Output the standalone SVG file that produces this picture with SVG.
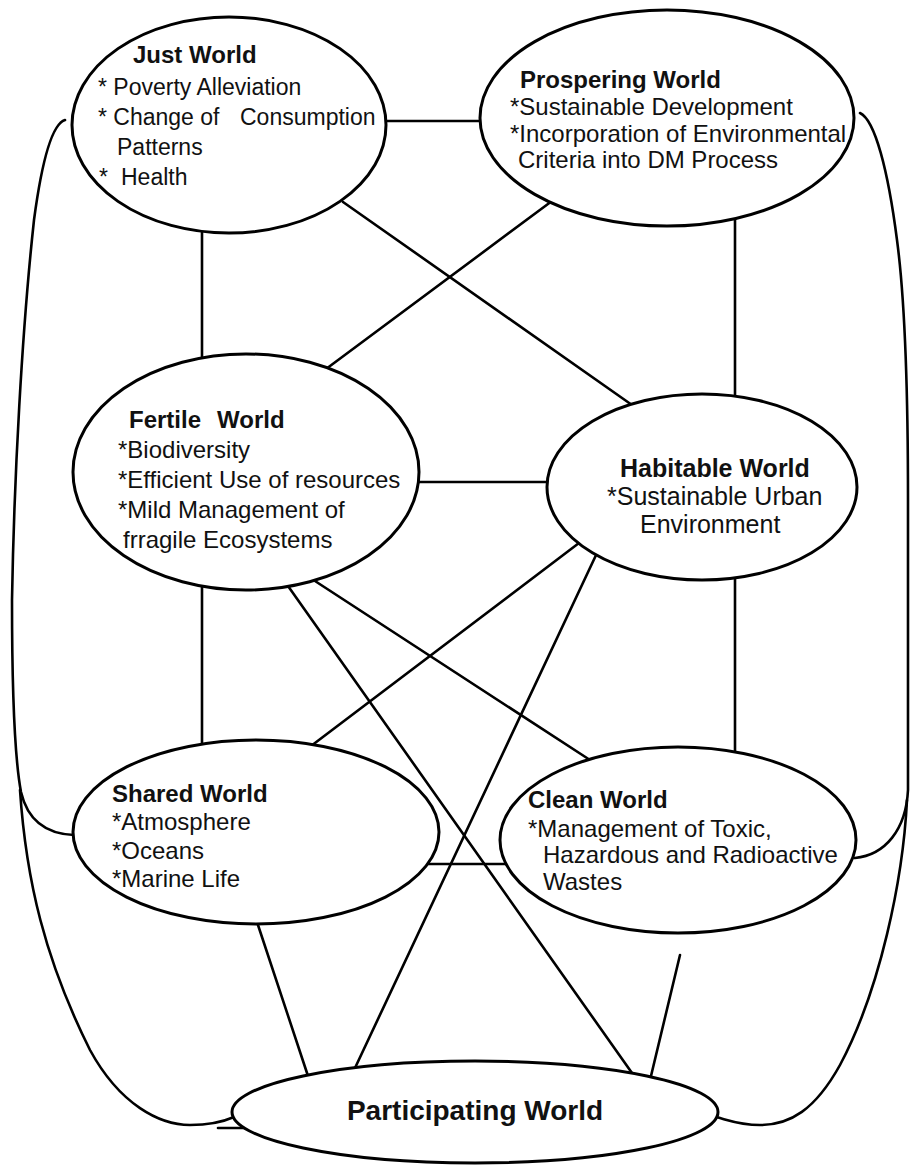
<svg xmlns="http://www.w3.org/2000/svg" width="910" height="1165" viewBox="0 0 910 1165">
<style>
.bg{fill:#ffffff}
.node ellipse{fill:#ffffff;stroke:#000;stroke-width:3}
.conn line,.conn path{stroke:#000;stroke-width:2.6;fill:none;stroke-linecap:round}
text{font-family:"Liberation Sans",Arial,sans-serif;fill:#111;font-size:24px}
.t{font-weight:bold}
.s23{font-size:23px}
.s25{font-size:25px}
.big{font-size:28px;font-weight:bold}
</style>
<rect class="bg" x="0" y="0" width="910" height="1165"/>
<g id="connectors" class="conn">
  <line x1="385" y1="121" x2="482" y2="121"/>
  <line x1="202" y1="228" x2="202" y2="362"/>
  <line x1="343" y1="202" x2="632" y2="405"/>
  <line x1="552" y1="201" x2="326" y2="369"/>
  <line x1="735" y1="216" x2="735" y2="398"/>
  <line x1="416" y1="482" x2="549" y2="482"/>
  <line x1="202" y1="584" x2="202" y2="746"/>
  <line x1="735" y1="576" x2="735" y2="754"/>
  <line x1="579" y1="543" x2="311" y2="746"/>
  <line x1="597" y1="553" x2="355" y2="1068"/>
  <line x1="288" y1="586" x2="632" y2="1073"/>
  <line x1="315" y1="581" x2="590" y2="760"/>
  <line x1="426" y1="864" x2="508" y2="864"/>
  <line x1="257" y1="922" x2="308" y2="1076"/>
  <line x1="680" y1="955" x2="651" y2="1076"/>
  <line x1="218" y1="1128" x2="258" y2="1128"/>
  <path d="M65,120 C52,124 42,160 34,220 C22,330 14,480 12,600 C12,700 15,760 21,792 C28,822 48,834 74,835"/>
  <path d="M20,790 C26,880 45,960 90,1050 C120,1105 160,1125 190,1125 C210,1125 225,1121 234,1117"/>
  <path d="M860,113 C875,120 888,170 897,240 C905,300 908,400 908,500 L908,790 C906,830 885,855 855,858"/>
  <path d="M907,800 C903,880 880,990 840,1065 C815,1110 790,1125 760,1125 C740,1125 728,1120 716,1117"/>
</g>
<g id="just-world" class="node">
  <ellipse cx="229" cy="125" rx="157" ry="108"/>
  <text class="t" x="133" y="63">Just World</text>
  <text class="s23" x="98" y="95">* Poverty Alleviation</text>
  <text class="s23" x="98" y="125">* Change of <tspan x="240">Consumption</tspan></text>
  <text class="s23" x="117" y="155">Patterns</text>
  <text class="s23" x="99" y="185">* <tspan x="121">Health</tspan></text>
</g>
<g id="prospering-world" class="node">
  <ellipse cx="667" cy="118" rx="187" ry="108"/>
  <text class="t" x="520" y="88">Prospering World</text>
  <text x="510" y="115">*Sustainable Development</text>
  <text x="510" y="142">*Incorporation of Environmental</text>
  <text x="518" y="168">Criteria into DM Process</text>
</g>
<g id="fertile-world" class="node">
  <ellipse cx="246" cy="472" rx="173" ry="118"/>
  <text class="t" x="129" y="428">Fertile <tspan x="217">World</tspan></text>
  <text x="118" y="458">*Biodiversity</text>
  <text x="118" y="488">*Efficient Use of resources</text>
  <text x="118" y="518">*Mild Management of</text>
  <text x="123" y="548">frragile Ecosystems</text>
</g>
<g id="habitable-world" class="node">
  <ellipse cx="702" cy="487" rx="155" ry="93"/>
  <text class="t s25" x="620" y="477">Habitable World</text>
  <text class="s25" x="607" y="505">*Sustainable Urban</text>
  <text class="s25" x="640" y="533">Environment</text>
</g>
<g id="shared-world" class="node">
  <ellipse cx="256" cy="832" rx="183" ry="92"/>
  <text class="t" x="112" y="802">Shared World</text>
  <text x="112" y="830">*Atmosphere</text>
  <text x="112" y="859">*Oceans</text>
  <text x="112" y="887">*Marine Life</text>
</g>
<g id="clean-world" class="node">
  <ellipse cx="678" cy="840" rx="178" ry="93"/>
  <text class="t" x="528" y="808">Clean World</text>
  <text x="528" y="837">*Management of Toxic,</text>
  <text x="543" y="863">Hazardous and Radioactive</text>
  <text x="543" y="890">Wastes</text>
</g>
<g id="participating-world" class="node">
  <ellipse cx="475" cy="1112" rx="243" ry="51"/>
  <text class="big" x="475" y="1120" text-anchor="middle">Participating World</text>
</g>
</svg>
